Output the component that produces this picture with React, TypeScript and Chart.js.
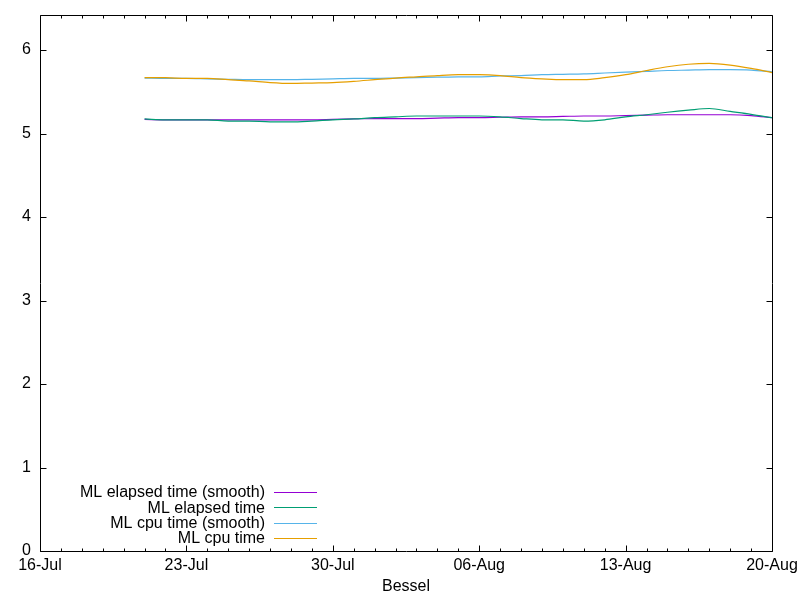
import React, { useEffect, useRef } from "react";
import { Chart, registerables } from "chart.js";

Chart.register(...registerables);

const dates = [
  "2023-07-21", "2023-07-22", "2023-07-23", "2023-07-24", "2023-07-25", "2023-07-26",
  "2023-07-27", "2023-07-28", "2023-07-29", "2023-07-30", "2023-07-31", "2023-08-01",
  "2023-08-02", "2023-08-03", "2023-08-04", "2023-08-05", "2023-08-06", "2023-08-07",
  "2023-08-08", "2023-08-09", "2023-08-10", "2023-08-11", "2023-08-12", "2023-08-13",
  "2023-08-14", "2023-08-15", "2023-08-16", "2023-08-17", "2023-08-18", "2023-08-19",
  "2023-08-20",
];

const elapsedSmooth = [
  5.17, 5.165, 5.165, 5.165, 5.165, 5.165, 5.165, 5.165, 5.165, 5.17, 5.175,
  5.18, 5.18, 5.18, 5.185, 5.19, 5.19, 5.195, 5.2, 5.2, 5.205, 5.21, 5.21, 5.215,
  5.22, 5.225, 5.225, 5.225, 5.225, 5.215, 5.19,
];
const elapsed = [
  5.175, 5.165, 5.165, 5.165, 5.15, 5.15, 5.14, 5.14, 5.15, 5.165, 5.175,
  5.19, 5.2, 5.21, 5.21, 5.21, 5.21, 5.2, 5.18, 5.165, 5.165, 5.15, 5.165, 5.2,
  5.225, 5.255, 5.28, 5.3, 5.265, 5.23, 5.19,
];
const cpuSmooth = [
  5.665, 5.66, 5.66, 5.655, 5.65, 5.645, 5.645, 5.645, 5.65, 5.655, 5.66,
  5.66, 5.665, 5.67, 5.675, 5.68, 5.68, 5.69, 5.695, 5.705, 5.71, 5.715, 5.725, 5.735,
  5.745, 5.755, 5.76, 5.765, 5.765, 5.76, 5.74,
];
const cpu = [
  5.67, 5.67, 5.66, 5.66, 5.645, 5.63, 5.61, 5.6, 5.605, 5.61, 5.625,
  5.645, 5.665, 5.68, 5.695, 5.705, 5.705, 5.695, 5.67, 5.655, 5.645, 5.645, 5.67, 5.705,
  5.755, 5.8, 5.83, 5.84, 5.82, 5.78, 5.73,
];

const seriesNames = ["ML elapsed time (smooth)", "ML elapsed time", "ML cpu time (smooth)", "ML cpu time"];
const seriesColors = ["#9400d3", "#009e73", "#56b4e9", "#e69f00"];

const xStart = "2023-07-16";
const xEnd = "2023-08-20";
const xTickLabels = ["16-Jul", "23-Jul", "30-Jul", "06-Aug", "13-Aug", "20-Aug"];
const yMin = 0;
const yMax = 6.42;
const yTicks = [0, 1, 2, 3, 4, 5, 6];
const xTitle = "Bessel";

const FONT = '"Liberation Sans", Arial, sans-serif';
const dayMs = 86400000;
const dayOf = (s: string) => (Date.parse(s + "T00:00:00Z") - Date.parse(xStart + "T00:00:00Z")) / dayMs;

const zeroPad = (s: any) => {
  s.paddingTop = 0;
  s.paddingBottom = 0;
  s.paddingLeft = 0;
  s.paddingRight = 0;
};

const framePlugin = {
  id: "gnuFrame",
  afterDatasetsDraw(chart: any) {
    const { ctx, chartArea: a, scales } = chart;
    const xs = scales.x;
    const ys = scales.y;
    ctx.save();
    ctx.strokeStyle = "#000";
    ctx.lineWidth = 1;
    ctx.beginPath();
    const L = Math.round(a.left) + 0.5;
    const R = Math.round(a.right) + 0.5;
    const T = Math.round(a.top) + 0.5;
    const B = Math.round(a.bottom) + 0.5;
    ctx.rect(L, T, R - L, B - T);
    const nDays = dayOf(xEnd);
    for (let d = 0; d <= nDays; d++) {
      const px = Math.round(xs.getPixelForValue(d)) + 0.5;
      const len = d % 7 === 0 ? 6 : 3;
      ctx.moveTo(px, B);
      ctx.lineTo(px, B - len);
      ctx.moveTo(px, T);
      ctx.lineTo(px, T + len);
    }
    for (const v of yTicks) {
      const py = Math.round(ys.getPixelForValue(v)) + 0.5;
      ctx.moveTo(L, py);
      ctx.lineTo(L + 6, py);
      ctx.moveTo(R, py);
      ctx.lineTo(R - 6, py);
    }
    ctx.stroke();

    // key (bottom left, gnuplot style)
    ctx.font = "16px " + FONT;
    ctx.textAlign = "right";
    ctx.textBaseline = "middle";
    chart.data.datasets.forEach((ds: any, i: number) => {
      const y = 492 + 15.3 * i;
      ctx.fillStyle = "#000";
      ctx.fillText(ds.label, 265, y + 1);
      ctx.strokeStyle = ds.borderColor;
      ctx.beginPath();
      ctx.moveTo(274, Math.round(y) + 0.5);
      ctx.lineTo(317, Math.round(y) + 0.5);
      ctx.stroke();
    });
    ctx.restore();
  },
};

export default function App() {
  const ref = useRef<HTMLCanvasElement>(null);
  useEffect(() => {
    document.body.style.margin = "0";
    const canvas = ref.current!;
    const seriesValues = [elapsedSmooth, elapsed, cpuSmooth, cpu];
    const chart = new Chart(canvas, {
      type: "line",
      data: {
        datasets: seriesValues.map((vals, i) => ({
          label: seriesNames[i],
          data: vals.map((v, j) => ({ x: dayOf(dates[j]), y: v })),
          borderColor: seriesColors[i],
          backgroundColor: seriesColors[i],
          borderWidth: 1.2,
          pointRadius: 0,
          cubicInterpolationMode: "monotone" as const,
          fill: false,
          order: 4 - i,
        })),
      },
      options: {
        animation: false,
        responsive: false,
        devicePixelRatio: 1,
        layout: { padding: { left: 0, right: 28, top: 15, bottom: 0 } },
        plugins: { legend: { display: false }, tooltip: { enabled: false } },
        scales: {
          x: {
            type: "linear",
            min: 0,
            max: dayOf(xEnd),
            grid: { display: false, drawTicks: false },
            border: { display: false },
            afterFit: (s: any) => { s.height = 49; zeroPad(s); },
            afterBuildTicks: (s: any) => {
              s.ticks = xTickLabels.map((_, i) => ({ value: i * 7 }));
            },
            ticks: {
              autoSkip: false,
              maxRotation: 0,
              padding: 5,
              color: "#000",
              font: { family: FONT, size: 16 },
              callback: (_v: any, i: number) => xTickLabels[i],
            },
            title: {
              display: true,
              text: xTitle,
              color: "#000",
              font: { family: FONT, size: 16 },
              padding: { top: 0, bottom: 4 },
            },
          },
          y: {
            type: "linear",
            min: yMin,
            max: yMax,
            grid: { display: false, drawTicks: false },
            border: { display: false },
            afterFit: (s: any) => { s.width = 40; zeroPad(s); },
            afterBuildTicks: (s: any) => {
              s.ticks = yTicks.map((v) => ({ value: v }));
            },
            ticks: {
              padding: 9,
              color: "#000",
              font: { family: FONT, size: 16 },
              callback: (v: any) => String(v),
            },
          },
        },
      },
      plugins: [framePlugin],
    });
    return () => chart.destroy();
  }, []);
  return (
    <div style={{ width: 800, height: 600, background: "#fff" }}>
      <canvas ref={ref} width={800} height={600} style={{ display: "block" }} />
    </div>
  );
}
